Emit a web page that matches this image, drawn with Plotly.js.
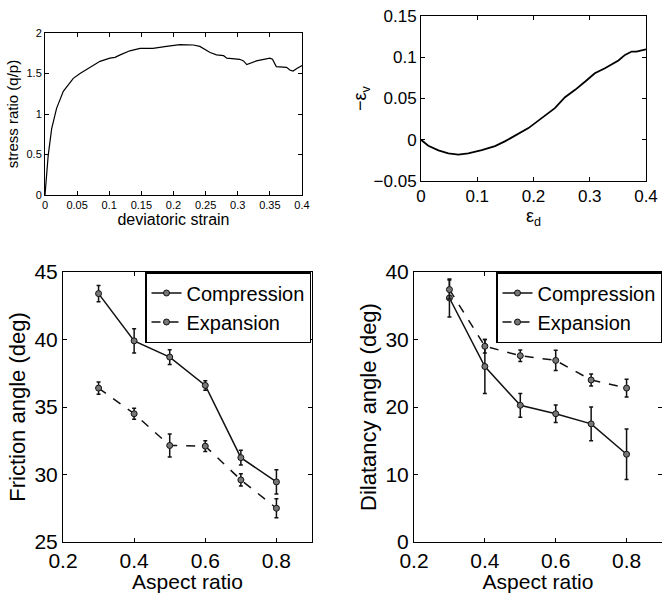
<!DOCTYPE html>
<html>
<head>
<meta charset="utf-8">
<script src="https://cdn.plot.ly/plotly-3.0.1.min.js"></script>
<style>body{margin:0;padding:0;background:#fff;} #chart{width:662px;height:593px;}</style>
</head>
<body>
<div id="chart"></div>
<script>
// Top-left: stress ratio vs deviatoric strain
const strainX = [0, 0.002, 0.005, 0.0104, 0.018, 0.0285, 0.044, 0.0545, 0.070, 0.0856, 0.101, 0.109, 0.117, 0.132, 0.148, 0.168, 0.189, 0.210, 0.231, 0.241, 0.257, 0.267, 0.278, 0.283, 0.303, 0.309, 0.314, 0.329, 0.350, 0.354, 0.360, 0.376, 0.381, 0.386, 0.392, 0.400];
const stressRatio = [0, 0.22, 0.49, 0.82, 1.07, 1.28, 1.44, 1.50, 1.58, 1.65, 1.69, 1.70, 1.73, 1.78, 1.81, 1.81, 1.835, 1.856, 1.852, 1.835, 1.76, 1.73, 1.72, 1.69, 1.675, 1.655, 1.61, 1.655, 1.69, 1.675, 1.585, 1.576, 1.543, 1.53, 1.563, 1.597];

// Top-right: -eps_v vs eps_d
const epsD = [0, 0.013, 0.031, 0.0486, 0.0664, 0.084, 0.108, 0.1316, 0.149, 0.167, 0.191, 0.2145, 0.238, 0.256, 0.274, 0.292, 0.309, 0.327, 0.351, 0.3627, 0.3745, 0.383, 0.400];
const negEpsV = [0, -0.0073, -0.0129, -0.0165, -0.018, -0.0165, -0.0125, -0.0077, -0.002, 0.0048, 0.0141, 0.0262, 0.0383, 0.0516, 0.0605, 0.0706, 0.0806, 0.0867, 0.096, 0.1028, 0.1069, 0.1069, 0.1097];

// Bottom: aspect ratio
const aspectRatio = [0.3, 0.4, 0.5, 0.6, 0.7, 0.8];
const frictionComp = [43.4, 39.9, 38.7, 36.6, 31.25, 29.45];
const frictionCompErr = [0.6, 0.9, 0.55, 0.35, 0.55, 0.9];
const frictionExp = [36.4, 34.5, 32.15, 32.1, 29.6, 27.5];
const frictionExpErr = [0.45, 0.4, 0.85, 0.4, 0.45, 0.7];
const dilatComp = [36.15, 26.0, 20.25, 19.0, 17.5, 13.0];
const dilatCompErr = [2.8, 4.0, 1.75, 1.3, 2.5, 3.75];
const dilatExp = [37.4, 29.0, 27.6, 26.9, 24.0, 22.8];
const dilatExpErr = [1.4, 1.0, 0.85, 1.5, 0.9, 1.3];

const W = 662, H = 593;
const fx = (a, b) => [a / W, b / W];
const fy = (top, bot) => [(H - bot) / H, (H - top) / H];
const FONT = 'Liberation Sans, Arial, sans-serif';

function ax(extra) {
  return Object.assign({
    showline: true, linecolor: '#000', linewidth: 1, mirror: 'ticks',
    ticks: 'inside', ticklen: 4, tickcolor: '#000', showgrid: false, zeroline: false,
    tickfont: {family: FONT, color: '#000'}
  }, extra);
}

const markerC = {symbol: 'circle', size: 6, color: '#777', line: {color: '#111', width: 1}};
const errStyle = (arr) => ({type: 'data', array: arr, visible: true, color: '#111', thickness: 1.5, width: 2});

const traces = [
  {x: strainX, y: stressRatio, xaxis: 'x', yaxis: 'y', mode: 'lines', line: {color: '#000', width: 1.2}, showlegend: false},
  {x: epsD, y: negEpsV, xaxis: 'x2', yaxis: 'y2', mode: 'lines', line: {color: '#000', width: 1.8}, showlegend: false},
  {x: aspectRatio, y: frictionComp, error_y: errStyle(frictionCompErr), xaxis: 'x3', yaxis: 'y3', name: 'Compression',
   mode: 'lines+markers', line: {color: '#111', width: 1.5}, marker: markerC, legend: 'legend'},
  {x: aspectRatio, y: frictionExp, error_y: errStyle(frictionExpErr), xaxis: 'x3', yaxis: 'y3', name: 'Expansion',
   mode: 'lines+markers', line: {color: '#111', width: 1.5, dash: 'dash'}, marker: markerC, legend: 'legend'},
  {x: aspectRatio, y: dilatComp, error_y: errStyle(dilatCompErr), xaxis: 'x4', yaxis: 'y4', name: 'Compression',
   mode: 'lines+markers', line: {color: '#111', width: 1.5}, marker: markerC, legend: 'legend2'},
  {x: aspectRatio, y: dilatExp, error_y: errStyle(dilatExpErr), xaxis: 'x4', yaxis: 'y4', name: 'Expansion',
   mode: 'lines+markers', line: {color: '#111', width: 1.5, dash: 'dash'}, marker: markerC, legend: 'legend2'}
];

const legendBase = {
  bordercolor: '#000', borderwidth: 1.5, bgcolor: '#fff',
  font: {family: FONT, size: 20, color: '#000'},
  xanchor: 'right', yanchor: 'top', itemwidth: 30, tracegroupgap: 0
};

const BIG = 21;
const layout = {
  width: W, height: H,
  margin: {l: 0, r: 0, t: 0, b: 0},
  paper_bgcolor: '#fff', plot_bgcolor: '#fff',
  font: {family: FONT, color: '#000'},
  xaxis: ax({domain: fx(45, 302), anchor: 'y', range: [0, 0.4], tickvals: [0, 0.05, 0.1, 0.15, 0.2, 0.25, 0.3, 0.35, 0.4],
    ticktext: ['0', '0.05', '0.1', '0.15', '0.2', '0.25', '0.3', '0.35', '0.4'],
    tickfont: {family: FONT, size: 11, color: '#000'},
    title: {text: 'deviatoric strain', font: {family: FONT, size: 16, color: '#000'}, standoff: 0}}),
  yaxis: ax({domain: fy(33, 195), anchor: 'x', range: [0, 2], tickvals: [0, 0.5, 1, 1.5, 2],
    ticktext: ['0', '0.5', '1', '1.5', '2'],
    tickfont: {family: FONT, size: 11, color: '#000'},
    title: {text: 'stress ratio (q/p)', font: {family: FONT, size: 15, color: '#000'}, standoff: 4}}),
  xaxis2: ax({domain: fx(421, 646), anchor: 'y2', range: [0, 0.4], tickvals: [0, 0.1, 0.2, 0.3, 0.4],
    ticktext: ['0', '0.1', '0.2', '0.3', '0.4'],
    tickfont: {family: FONT, size: 17, color: '#000'},
    title: {text: 'ε<sub>d</sub>', font: {family: FONT, size: 18, color: '#000'}, standoff: 0}}),
  yaxis2: ax({domain: fy(16, 181), anchor: 'x2', range: [-0.05, 0.15], tickvals: [-0.05, 0, 0.05, 0.1, 0.15],
    ticktext: ['−0.05', '0', '0.05', '0.1', '0.15'],
    tickfont: {family: FONT, size: 17, color: '#000'},
    title: {text: '−ε<sub>v</sub>', font: {family: FONT, size: 18, color: '#000'}, standoff: 2}}),
  xaxis3: ax({domain: fx(63, 312), anchor: 'y3', range: [0.2, 0.9], tickvals: [0.2, 0.4, 0.6, 0.8],
    ticktext: ['0.2', '0.4', '0.6', '0.8'],
    tickfont: {family: FONT, size: BIG, color: '#000'},
    title: {text: 'Aspect ratio', font: {family: FONT, size: 21, color: '#000'}, standoff: 0}}),
  yaxis3: ax({domain: fy(272, 542), anchor: 'x3', range: [25, 45], tickvals: [25, 30, 35, 40, 45],
    tickfont: {family: FONT, size: BIG, color: '#000'},
    title: {text: 'Friction angle (deg)', font: {family: FONT, size: 22, color: '#000'}, standoff: 2}}),
  xaxis4: ax({domain: fx(414, 662), anchor: 'y4', range: [0.2, 0.9], tickvals: [0.2, 0.4, 0.6, 0.8],
    ticktext: ['0.2', '0.4', '0.6', '0.8'],
    tickfont: {family: FONT, size: BIG, color: '#000'},
    title: {text: 'Aspect ratio', font: {family: FONT, size: 21, color: '#000'}, standoff: 0}}),
  yaxis4: ax({domain: fy(272, 542), anchor: 'x4', range: [0, 40], tickvals: [0, 10, 20, 30, 40],
    tickfont: {family: FONT, size: BIG, color: '#000'},
    title: {text: 'Dilatancy angle (deg)', font: {family: FONT, size: 22, color: '#000'}, standoff: 2}}),
  legend: Object.assign({}, legendBase, {x: 311 / W, y: (H - 272) / H}),
  legend2: Object.assign({}, legendBase, {x: 1.0, y: (H - 272) / H})
};

Plotly.newPlot('chart', traces, layout, {displayModeBar: false, staticPlot: true});
</script>
</body>
</html>
